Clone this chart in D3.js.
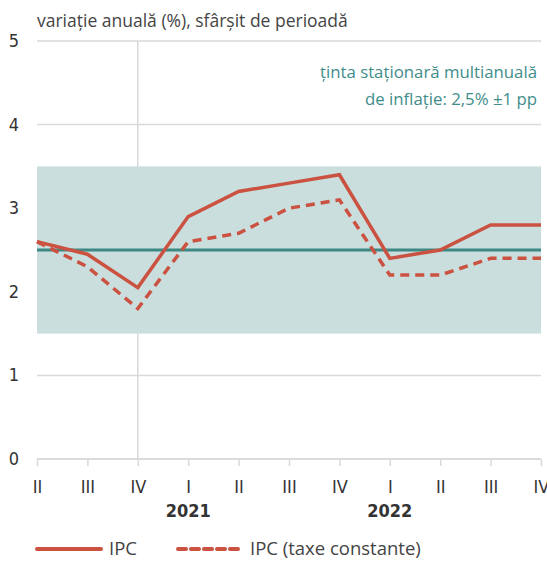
<!DOCTYPE html>
<meta charset="utf-8">
<style>
body { margin:0; background:#fff; }
text { font-family: "Liberation Sans Narrow", "DejaVu Sans Condensed", sans-serif; }
.lab { font-family: "Open Sans", "Noto Sans", sans-serif; }
</style>
<body>
<div id="chart"></div>
<script src="https://cdnjs.cloudflare.com/ajax/libs/d3/7.8.5/d3.min.js"></script>
<script>
var quarters = ["II","III","IV","I","II","III","IV","I","II","III","IV"];
var years = [{label:"2021", at:3}, {label:"2022", at:7}];
var ipc = [2.6, 2.45, 2.05, 2.9, 3.2, 3.3, 3.4, 2.4, 2.5, 2.8, 2.8];
var ipcTaxe = [2.6, 2.3, 1.8, 2.6, 2.7, 3.0, 3.1, 2.2, 2.2, 2.4, 2.4];
var yTicks = [0, 1, 2, 3, 4, 5];
var target = 2.5, band = [1.5, 3.5];

var width = 547, height = 562;
var svg = d3.select("#chart").append("svg")
    .attr("width", width).attr("height", height);

var x = d3.scaleLinear().domain([0, quarters.length - 1]).range([37, 541]);
var y = d3.scaleLinear().domain([0, 5]).range([459, 41]);

var red = "#cb5140", teal = "#3e8884", grid = "#d9d9d9";

// gridlines
svg.selectAll("line.grid").data(yTicks).enter().append("line")
    .attr("x1", x(0)).attr("x2", x(10))
    .attr("y1", d => y(d)).attr("y2", d => y(d))
    .attr("stroke", grid).attr("stroke-width", 1.5);

// vertical separator at IV
svg.append("line")
    .attr("x1", x(2)).attr("x2", x(2))
    .attr("y1", y(5)).attr("y2", y(0))
    .attr("stroke", grid).attr("stroke-width", 1.5);

// target band
svg.append("rect")
    .attr("x", x(0)).attr("width", x(10) - x(0))
    .attr("y", y(band[1])).attr("height", y(band[0]) - y(band[1]))
    .attr("fill", "#c9dedd");

svg.append("line")
    .attr("x1", x(0)).attr("x2", x(10))
    .attr("y1", y(target)).attr("y2", y(target))
    .attr("stroke", teal).attr("stroke-width", 3);

// y labels
svg.selectAll("text.ylab").data(yTicks).enter().append("text")
    .attr("x", 14).attr("y", d => y(d) + 6)
    .attr("text-anchor", "middle")
    .attr("font-size", 18).attr("fill", "#333")
    .text(d => d);

// x axis
var xAxis = svg.append("g")
    .attr("transform", "translate(0," + y(0) + ")")
    .call(d3.axisBottom(x).tickValues(d3.range(quarters.length))
        .tickSize(7).tickFormat(i => quarters[i]));
xAxis.select(".domain").attr("stroke", grid).attr("stroke-width", 1.5).attr("d", "M" + x(0) + ",0H" + x(10));
xAxis.selectAll(".tick line").attr("stroke", grid).attr("stroke-width", 1.5);
xAxis.selectAll(".tick text").attr("font-size", 18).attr("fill", "#333").attr("dy", "1.35em")
    .attr("font-family", "Liberation Sans Narrow, DejaVu Sans Condensed, sans-serif");

svg.selectAll("text.year").data(years).enter().append("text")
    .attr("x", d => x(d.at)).attr("y", 517)
    .attr("text-anchor", "middle")
    .attr("font-size", 18).attr("font-weight", "bold").attr("fill", "#333")
    .text(d => d.label);

// lines
var line = d3.line().x((d, i) => x(i)).y(d => y(d));
svg.append("path").datum(ipcTaxe).attr("d", line)
    .attr("fill", "none").attr("stroke", red).attr("stroke-width", 3.5)
    .attr("stroke-dasharray", "9,6");
svg.append("path").datum(ipc).attr("d", line)
    .attr("fill", "none").attr("stroke", red).attr("stroke-width", 3.5);

// titles
svg.append("text").attr("class", "lab")
    .attr("x", 37).attr("y", 27)
    .attr("font-size", 17.5).attr("fill", "#444")
    .text("variație anuală (%), sfârșit de perioadă");

var ann = svg.append("text").attr("class", "lab")
    .attr("text-anchor", "end").attr("font-size", 16.8).attr("fill", "#3f8d8a");
ann.append("tspan").attr("x", 537).attr("y", 78).text("ținta staționară multianuală");
ann.append("tspan").attr("x", 537).attr("y", 105).text("de inflație: 2,5% ±1 pp");

// legend
var legend = [{label:"IPC", dash:null, x:37}, {label:"IPC (taxe constante)", dash:"8,5", x:178}];
var lg = svg.selectAll("g.leg").data(legend).enter().append("g")
    .attr("transform", d => "translate(" + d.x + ",549)");
lg.append("line").attr("x1", 0).attr("x2", 64)
    .attr("stroke", red).attr("stroke-width", 4)
    .attr("stroke-linecap", "round")
    .attr("stroke-dasharray", d => d.dash);
lg.append("text").attr("class", "lab").attr("x", 72).attr("y", 6)
    .attr("font-size", 18.5).attr("fill", "#444")
    .text(d => d.label);
</script>
</body>
